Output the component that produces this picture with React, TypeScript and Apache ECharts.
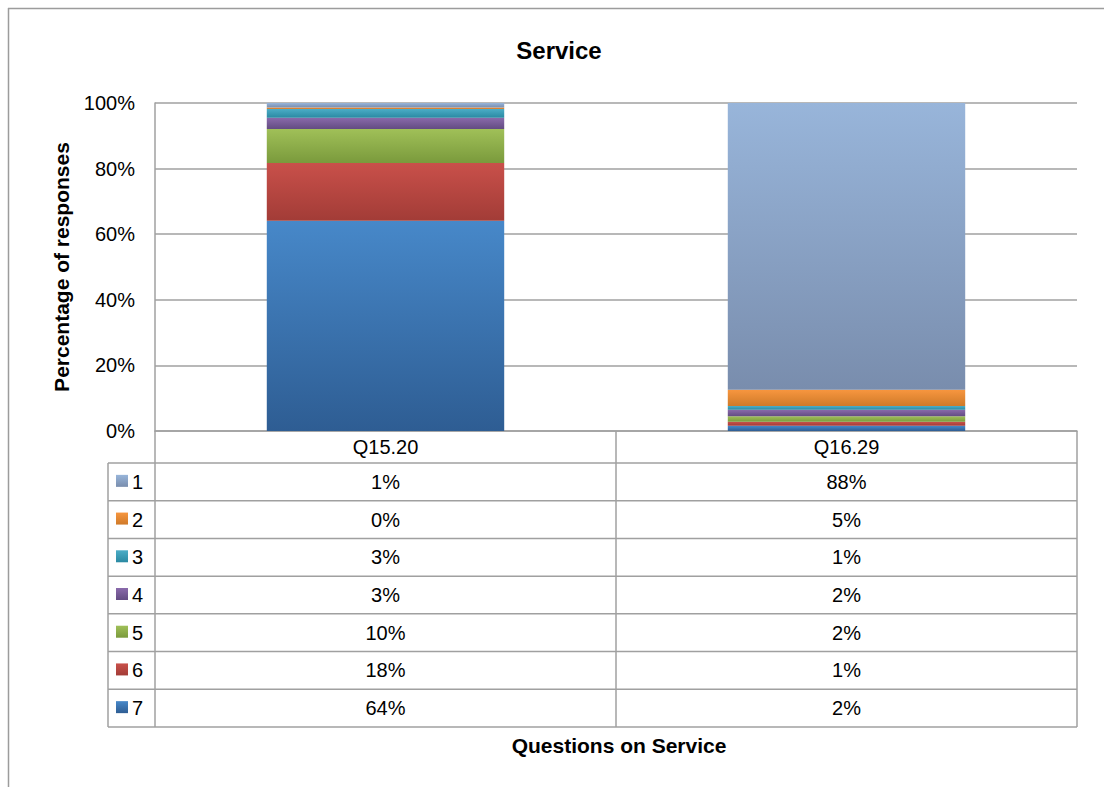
import React, { useEffect, useRef } from "react";
import * as echarts from "echarts";

// ---- data ----
const categories = ["Q15.20", "Q16.29"];
const responseLabels = ["1", "2", "3", "4", "5", "6", "7"];
// percentage of responses per answer (1..7)
const q1520Values = [1.4, 0.4, 2.7, 3.4, 10.4, 17.6, 64.1];
const q1629Values = [87.5, 5.0, 1.1, 2.0, 1.7, 1.2, 1.6];
const yTicks = [0, 20, 40, 60, 80, 100];

const titleText = "Service";
const yTitleText = "Percentage of responses";
const xTitleText = "Questions on Service";

// gradient colours per answer (top, bottom)
const answerColors: [string, string][] = [
  ["#98b5da", "#798dad"],
  ["#f7963f", "#cf7a29"],
  ["#4cadc7", "#2a89a2"],
  ["#8a6aab", "#634c82"],
  ["#a0c058", "#7a9a3c"],
  ["#c9504a", "#a23c37"],
  ["#4788c9", "#2e5d93"],
];

const FONT = "'Liberation Sans', Arial, Helvetica, sans-serif";
const GRID_COLOR = "#a0a0a0";

function grad(c: [string, string]) {
  return new echarts.graphic.LinearGradient(0, 0, 0, 1, [
    { offset: 0, color: c[0] },
    { offset: 1, color: c[1] },
  ]);
}

export default function App() {
  const ref = useRef<HTMLDivElement>(null);

  useEffect(() => {
    if (!ref.current) return;
    const chart = echarts.init(ref.current, undefined, { renderer: "svg" });

    const columns = [q1520Values, q1629Values];
    const sums = columns.map((c) => c.reduce((a, b) => a + b, 0));

    // layout
    const plotLeft = 155;
    const plotRight = 1077;
    const plotTop = 103;
    const plotBottom = 431;
    const headerBottom = 463;
    const tableBottom = 727;
    const legendLeft = 108;
    const midX = (plotLeft + plotRight) / 2;
    const rowH = (tableBottom - headerBottom) / responseLabels.length;
    const colCenters = [(plotLeft + midX) / 2, (midX + plotRight) / 2];

    // series: stack from answer 7 (bottom) to answer 1 (top)
    const order = [6, 5, 4, 3, 2, 1, 0];
    const series = order.map((i) => ({
      name: responseLabels[i],
      type: "bar",
      stack: "total",
      barWidth: "51.5%",
      data: columns.map((c, ci) => (c[i] / sums[ci]) * 100),
      itemStyle: { color: grad(answerColors[i]) },
      emphasis: { disabled: true },
    }));

    const line = (x1: number, y1: number, x2: number, y2: number, color = GRID_COLOR, w = 1.5) => ({
      type: "line",
      silent: true,
      shape: { x1, y1, x2, y2 },
      style: { stroke: color, lineWidth: w },
    });

    const graphics: any[] = [];
    // outer frame (top + left)
    graphics.push(line(8, 8.5, 1104, 8.5, "#9c9c9c", 1.5));
    graphics.push(line(8.5, 8, 8.5, 787, "#9c9c9c", 1.5));

    // table lines
    for (let r = 0; r <= responseLabels.length; r++) {
      const y = headerBottom + r * rowH;
      graphics.push(line(legendLeft, y, plotRight, y));
    }
    graphics.push(line(legendLeft, headerBottom, legendLeft, tableBottom));
    graphics.push(line(plotLeft, plotBottom, plotLeft, tableBottom));
    graphics.push(line(midX, plotBottom, midX, tableBottom));
    graphics.push(line(plotRight, plotBottom, plotRight, tableBottom));

    // table rows
    responseLabels.forEach((lab, i) => {
      const cy = headerBottom + (i + 0.5) * rowH;
      graphics.push({
        type: "rect",
        silent: true,
        shape: { x: 116, y: cy - 7, width: 12, height: 12 },
        style: { fill: grad(answerColors[i]) },
      });
      graphics.push({
        type: "text",
        silent: true,
        x: 132,
        y: cy,
        style: {
          text: lab,
          fontSize: 20,
          fontFamily: FONT,
          fill: "#000",
          align: "left",
          verticalAlign: "middle",
        },
      });
      columns.forEach((c, ci) => {
        graphics.push({
          type: "text",
          silent: true,
          x: colCenters[ci],
          y: cy,
          style: {
            text: Math.round(c[i]) + "%",
            fontSize: 20,
            fontFamily: FONT,
            fill: "#000",
            align: "center",
            verticalAlign: "middle",
          },
        });
      });
    });

    // titles
    graphics.push({
      type: "text",
      silent: true,
      x: 559,
      y: 50,
      style: {
        text: titleText,
        fontSize: 24,
        fontWeight: "bold",
        fontFamily: FONT,
        fill: "#000",
        align: "center",
        verticalAlign: "middle",
      },
    });
    graphics.push({
      type: "text",
      silent: true,
      x: 61,
      y: (plotTop + plotBottom) / 2,
      rotation: Math.PI / 2,
      style: {
        text: yTitleText,
        fontSize: 21,
        fontWeight: "bold",
        fontFamily: FONT,
        fill: "#000",
        align: "center",
        verticalAlign: "middle",
      },
    });
    graphics.push({
      type: "text",
      silent: true,
      x: 619,
      y: 745,
      style: {
        text: xTitleText,
        fontSize: 21,
        fontWeight: "bold",
        fontFamily: FONT,
        fill: "#000",
        align: "center",
        verticalAlign: "middle",
      },
    });

    chart.setOption({
      animation: false,
      textStyle: { fontFamily: FONT },
      grid: {
        left: plotLeft,
        right: 1104 - plotRight,
        top: plotTop,
        bottom: 787 - plotBottom,
        containLabel: false,
      },
      xAxis: {
        type: "category",
        data: categories,
        axisLine: { show: true, lineStyle: { color: GRID_COLOR, width: 1.5 } },
        axisTick: { show: false },
        axisLabel: { color: "#000", fontSize: 20, margin: 6, fontFamily: FONT },
        splitLine: { show: false },
      },
      yAxis: {
        type: "value",
        min: yTicks[0],
        max: yTicks[yTicks.length - 1],
        interval: yTicks[1] - yTicks[0],
        axisLine: { show: true, lineStyle: { color: GRID_COLOR, width: 1.5 } },
        axisTick: { show: false },
        axisLabel: {
          color: "#000",
          fontSize: 20,
          margin: 20,
          fontFamily: FONT,
          formatter: "{value}%",
        },
        splitLine: { show: true, lineStyle: { color: GRID_COLOR, width: 1.5 } },
      },
      series,
      graphic: graphics,
    });

    return () => chart.dispose();
  }, []);

  return (
    <div
      ref={ref}
      style={{ position: "absolute", left: 0, top: 0, width: 1104, height: 787, background: "#fff" }}
    />
  );
}
